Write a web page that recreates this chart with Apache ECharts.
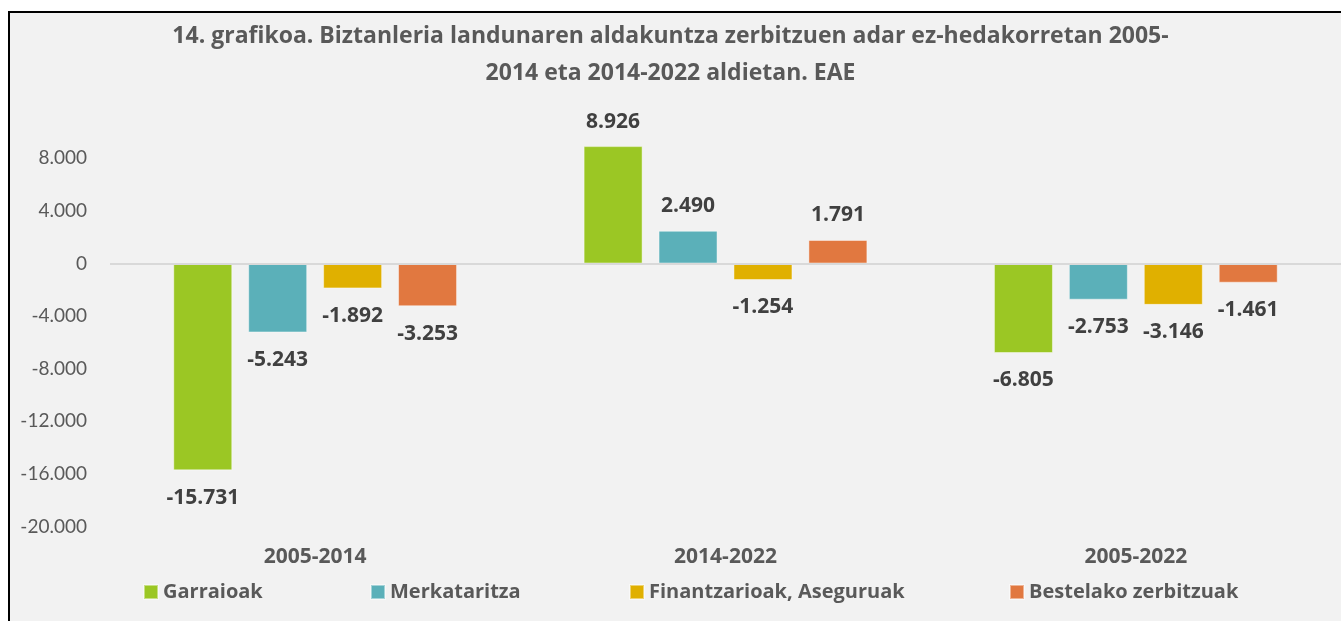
<!DOCTYPE html>
<html style="height: 100%">
<head>
	<meta charset="utf-8">
	<title></title>
	<script type="text/javascript" src="https://cdn.jsdelivr.net/npm/echarts@6/dist/echarts.min.js"></script>
	<style>
		html, body { margin: 0; height: 100%; background: #ffffff; }
		#container { width: 1341px; height: 621px; }
	</style>
</head>
<body>
<div id="container"></div>
<script type="text/javascript">
	var categories = ['2005-2014', '2014-2022', '2005-2022'];
	var garraioak = [-15731, 8926, -6805];
	var merkataritza = [-5243, 2490, -2753];
	var finantzarioak = [-1892, -1254, -3146];
	var bestelako = [-3253, 1791, -1461];
	var seriesNames = ['Garraioak', 'Merkataritza', 'Finantzarioak, Aseguruak', 'Bestelako zerbitzuak'];
	var colors = ['#9bc724', '#5bb0b9', '#e0b000', '#e17840'];
	var legendLeft = [143, 370, 629, 1009];

	var FONT = 'Open Sans';
	var AXISFONT = 'Lato';

	function fmt(v) {
		var s = String(Math.abs(v)).replace(/\B(?=(\d{3})+(?!\d))/g, '.');
		return (v < 0 ? '-' : '') + s;
	}

	function makeSeries(name, values, idx) {
		var s = {
			name: name,
			type: 'bar',
			barWidth: 59,
			barGap: '27%',
			itemStyle: { color: colors[idx], borderColor: 'rgba(255,255,255,0.45)', borderWidth: 1 },
			label: {
				show: true,
				color: '#404040',
				fontFamily: FONT,
				fontWeight: 'bold',
				fontSize: 21,
				formatter: function (p) { return fmt(p.value); }
			},
			data: values.map(function (v) {
				return {
					value: v,
					label: v < 0 ? { position: 'bottom', distance: 17 } : { position: 'top', distance: 14 }
				};
			})
		};
		if (idx === 0) {
			s.markLine = {
				silent: true,
				symbol: 'none',
				label: { show: false },
				lineStyle: { color: '#d9d9d9', width: 2, type: 'solid' },
				data: [{ yAxis: 0 }]
			};
		}
		return s;
	}

	var dom = document.getElementById('container');
	var myChart = echarts.init(dom);
	var option = {
		animation: false,
		backgroundColor: '#ffffff',
		graphic: [{
			type: 'rect',
			z: -10,
			silent: true,
			shape: { x: 9, y: 12, width: 1400, height: 700 },
			style: { fill: '#f2f2f2', stroke: '#000000', lineWidth: 2 }
		}],
		title: {
			left: 'center',
			top: 13,
			text: '14. grafikoa. Biztanleria landunaren aldakuntza zerbitzuen adar ez-hedakorretan 2005-\n2014 eta 2014-2022 aldietan. EAE',
			textStyle: {
				fontFamily: FONT,
				fontWeight: 'bold',
				fontSize: 23,
				lineHeight: 37,
				color: '#595959'
			}
		},
		legend: seriesNames.map(function (n, i) {
			return {
				data: [n],
				left: legendLeft[i],
				top: 581,
				padding: 0,
				itemWidth: 14,
				itemHeight: 14,
				icon: 'rect',
				textStyle: { fontFamily: FONT, fontWeight: 'bold', fontSize: 20, lineHeight: 22, color: '#595959' }
			};
		}),
		grid: {
			left: 110,
			width: 1236,
			top: 132,
			bottom: 94.5,
			containLabel: false
		},
		xAxis: {
			type: 'category',
			data: categories,
			axisLine: { show: false, onZero: false },
			axisTick: { show: false },
			axisLabel: {
				margin: 20,
				fontFamily: FONT,
				fontWeight: 'bold',
				fontSize: 21,
				color: '#595959'
			}
		},
		yAxis: {
			type: 'value',
			min: -20000,
			max: 10000,
			interval: 4000,
			axisLine: { show: false },
			axisTick: { show: false },
			splitLine: { show: false },
			axisLabel: {
				margin: 23,
				fontFamily: AXISFONT,
				fontSize: 19,
				color: '#595959',
				formatter: function (v) { return v % 4000 === 0 ? fmt(v) : ''; }
			}
		},
		series: [
			makeSeries(seriesNames[0], garraioak, 0),
			makeSeries(seriesNames[1], merkataritza, 1),
			makeSeries(seriesNames[2], finantzarioak, 2),
			makeSeries(seriesNames[3], bestelako, 3)
		]
	};
	myChart.setOption(option);
</script>
</body>
</html>
